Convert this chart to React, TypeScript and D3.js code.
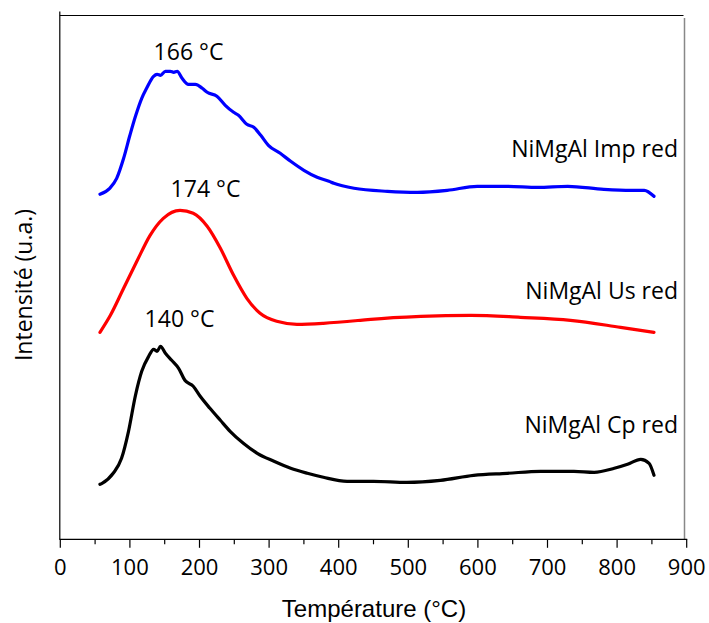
import React from "react";
import * as d3 from "d3";

// Temperature (°C) sample points and intensities (a.u., arbitrary offset-stacked)
const impT = [57, 71, 81, 91, 100, 108, 117, 124, 134, 139, 144, 151, 158, 163, 168, 175, 184, 194, 204, 211, 225, 237, 249, 256, 268, 278, 288, 299, 316, 331, 350, 369, 386, 393, 422, 470, 513, 556, 599, 642, 686, 729, 781, 820, 839, 853];
const impI = [345, 351, 361, 381, 404, 423, 441, 451, 463, 465, 464, 468, 468, 467, 468, 461, 455, 455, 451, 447, 443, 434, 427, 424, 415, 412, 404, 394, 386, 378, 369, 362, 358, 356, 351, 348, 347, 349, 353, 353, 352, 353, 350, 349, 349, 343];

const usT = [57, 72, 91, 110, 129, 148, 172, 191, 211, 230, 249, 268, 287, 311, 340, 378, 431, 446, 518, 590, 661, 733, 805, 853];
const usI = [207, 224, 251, 278, 304, 321, 329, 326, 313, 291, 264, 241, 226, 218, 215, 216, 219, 220, 223, 224, 222, 219, 212, 207];

const cpT = [57, 60, 76, 88, 98, 108, 117, 127, 134, 139, 144, 151, 160, 170, 179, 191, 201, 215, 230, 244, 263, 283, 307, 331, 355, 378, 412, 450, 498, 546, 594, 642, 690, 738, 767, 796, 815, 834, 846, 853];
const cpI = [55, 56, 66, 81, 108, 144, 168, 183, 190, 188, 193, 186, 179, 171, 159, 153, 143, 131, 119, 108, 96, 86, 78, 71, 66, 62, 58, 58, 57, 59, 64, 66, 68, 68, 67, 71, 75, 80, 76, 64];

const xTicks = [0, 100, 200, 300, 400, 500, 600, 700, 800, 900];
const xMinorTicks = [50, 150, 250, 350, 450, 550, 650, 750, 850];

const seriesNames = ["NiMgAl Imp red", "NiMgAl Us red", "NiMgAl Cp red"];
const peakLabels = ["166 °C", "174 °C", "140 °C"];
const peakTemps = [166, 174, 140];

export default function App() {
  const W = 709;
  const H = 623;
  const x = d3.scaleLinear().domain([0, 900]).range([60.3, 686.7]);
  const y = d3.scaleLinear().domain([0, 524]).range([539.3, 15.3]);

  const mk = (T: number[], I: number[]) => T.map((t, i) => [t, I[i]] as [number, number]);
  const line = d3.line<[number, number]>().x(d => x(d[0])).y(d => y(d[1])).curve(d3.curveMonotoneX);

  const series = [
    { data: mk(impT, impI), color: "#0000ff" },
    { data: mk(usT, usI), color: "#ff0000" },
    { data: mk(cpT, cpI), color: "#000000" },
  ];

  const labelFont = "'Open Sans', 'Noto Sans', sans-serif";
  const nameBaselines = [157, 298.5, 432.5];
  const peakBaselines = [59.5, 196.5, 326.5];
  const peakCenterX = [188.5, 205.5, 179.5];

  const axisY = y(0);

  return (
    <svg width={W} height={H} style={{ position: "absolute", left: 0, top: 0, background: "#fff" }}>
      <rect x={0} y={0} width={W} height={H} fill="#ffffff" />
      {/* frame */}
      <line x1={x(0) - 0.5} x2={683.5} y1={15.5} y2={15.5} stroke="#000" strokeWidth={1.2} />
      <line x1={684.5} x2={684.5} y1={18} y2={axisY} stroke="#888" strokeWidth={1.5} />
      <line x1={x(0) - 0.5} x2={x(0) - 0.5} y1={11.5} y2={axisY} stroke="#000" strokeWidth={1.2} />
      <line x1={x(0) - 1} x2={x(900) + 0.5} y1={axisY} y2={axisY} stroke="#000" strokeWidth={1.2} />
      {xTicks.map(t => (
        <g key={"t" + t}>
          <line x1={x(t)} x2={x(t)} y1={axisY} y2={axisY + 8.5} stroke="#000" strokeWidth={1.2} />
          <text x={x(t)} y={575} textAnchor="middle" fontFamily={labelFont} fontSize={22} fill="#000">{t}</text>
        </g>
      ))}
      {xMinorTicks.map(t => (
        <line key={"m" + t} x1={x(t)} x2={x(t)} y1={axisY} y2={axisY + 5} stroke="#000" strokeWidth={1.2} />
      ))}
      {/* curves */}
      {series.map((s, i) => (
        <path key={"s" + i} d={line(s.data) || ""} fill="none" stroke={s.color} strokeWidth={3.2} strokeLinejoin="round" strokeLinecap="round" />
      ))}
      {/* peak labels */}
      {peakLabels.map((p, i) => (
        <text key={"p" + i} data-peak={peakTemps[i]} x={peakCenterX[i]} y={peakBaselines[i]} textAnchor="middle" fontFamily={labelFont} fontSize={23} fill="#000">{p}</text>
      ))}
      {/* series names */}
      {seriesNames.map((n, i) => (
        <text key={"n" + i} x={678} y={nameBaselines[i]} textAnchor="end" fontFamily={labelFont} fontSize={23} fill="#000">{n}</text>
      ))}
      {/* axis titles */}
      <text x={374} y={617} textAnchor="middle" fontFamily="'Liberation Sans', Arial, sans-serif" fontSize={24} fill="#000">Température (°C)</text>
      <text transform="translate(31.5,285) rotate(-90)" textAnchor="middle" fontFamily={labelFont} fontSize={23} fill="#000">Intensité (u.a.)</text>
    </svg>
  );
}
